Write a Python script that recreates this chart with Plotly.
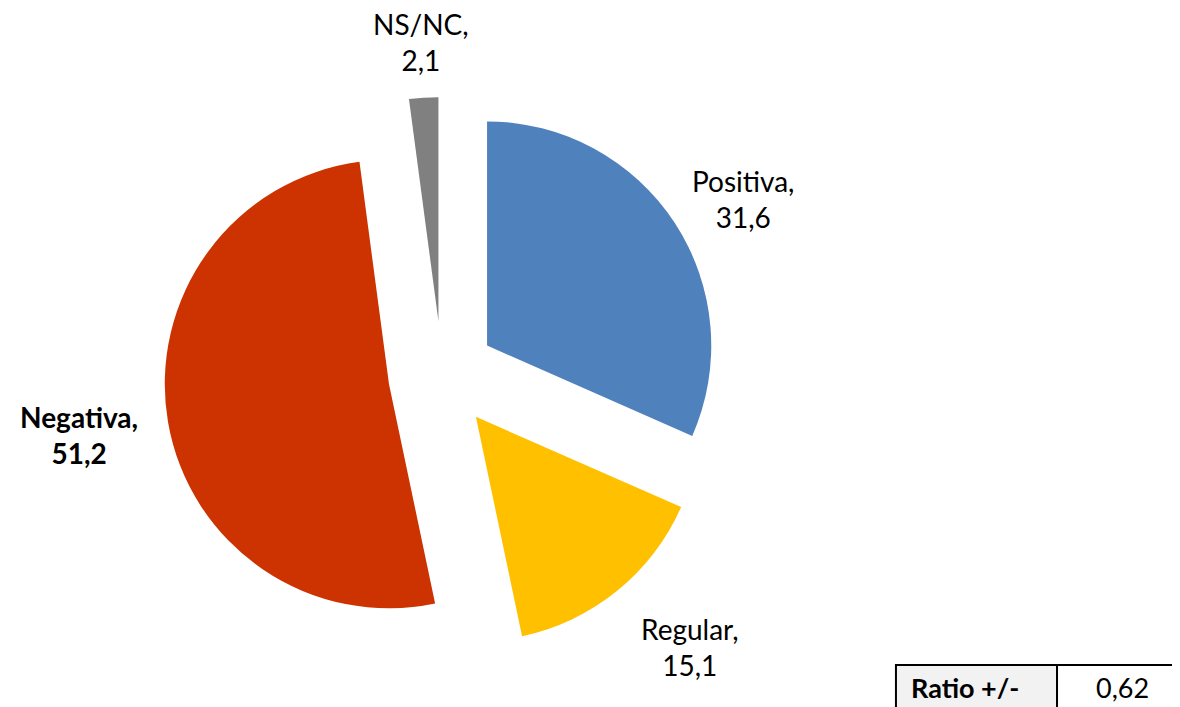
import plotly.graph_objects as go

labels = ["Positiva", "Regular", "Negativa", "NS/NC"]
values = [31.6, 15.1, 51.2, 2.1]
colors = ["#4F81BD", "#FFC000", "#CC3300", "#808080"]
bold = [False, False, True, False]
ratio_label = "Ratio +/-"
ratio_value = 0.62

# where each slice label sits (paper coords)
label_pos = [(0.6229, 0.7298), (0.5780, 0.0962), (0.0602, 0.3960), (0.3500, 0.9519)]

fig = go.Figure()
fig.add_trace(go.Pie(
    labels=labels,
    values=values,
    sort=False,
    direction="clockwise",
    rotation=0,
    pull=[0.24] * 4,
    marker=dict(colors=colors, line=dict(width=0)),
    textinfo="none",
    domain=dict(x=[0.1322, 0.6034], y=[0.0877, 0.8741]),
    showlegend=False,
    hoverinfo="label+value",
))

for lab, val, b, (px, py) in zip(labels, values, bold, label_pos):
    txt = f"{lab},<br>{val:.1f}".replace(".", ",")
    if b:
        txt = "<b>" + txt.replace("<br>", "</b><br><b>") + "</b>"
    fig.add_annotation(x=px, y=py, xref="paper", yref="paper", text=txt,
                       showarrow=False, xanchor="center", yanchor="middle",
                       align="center",
                       font=dict(family="Lato", size=28, color="black"))

# small ratio table bottom right
fig.add_shape(type="rect", xref="paper", yref="paper",
              x0=0.7525, x1=0.8890, y0=-0.1, y1=0.0707,
              fillcolor="#F2F2F2", line=dict(color="black", width=2))
fig.add_shape(type="rect", xref="paper", yref="paper",
              x0=0.8890, x1=1.1, y0=-0.1, y1=0.0707,
              fillcolor="white", line=dict(color="black", width=2))
fig.add_annotation(x=0.8110, y=0.0382, xref="paper", yref="paper",
                   text="<b>" + ratio_label + "</b>", showarrow=False,
                   xanchor="center", yanchor="middle",
                   font=dict(family="Lato", size=27, color="black"))
fig.add_annotation(x=0.9441, y=0.0382, xref="paper", yref="paper",
                   text=f"{ratio_value:.2f}".replace(".", ","), showarrow=False,
                   xanchor="center", yanchor="middle",
                   font=dict(family="Lato", size=27, color="black"))

fig.update_layout(
    width=1180,
    height=707,
    margin=dict(l=0, r=0, t=0, b=0, autoexpand=False),
    paper_bgcolor="white",
    plot_bgcolor="white",
)

fig.write_html("out.html")
